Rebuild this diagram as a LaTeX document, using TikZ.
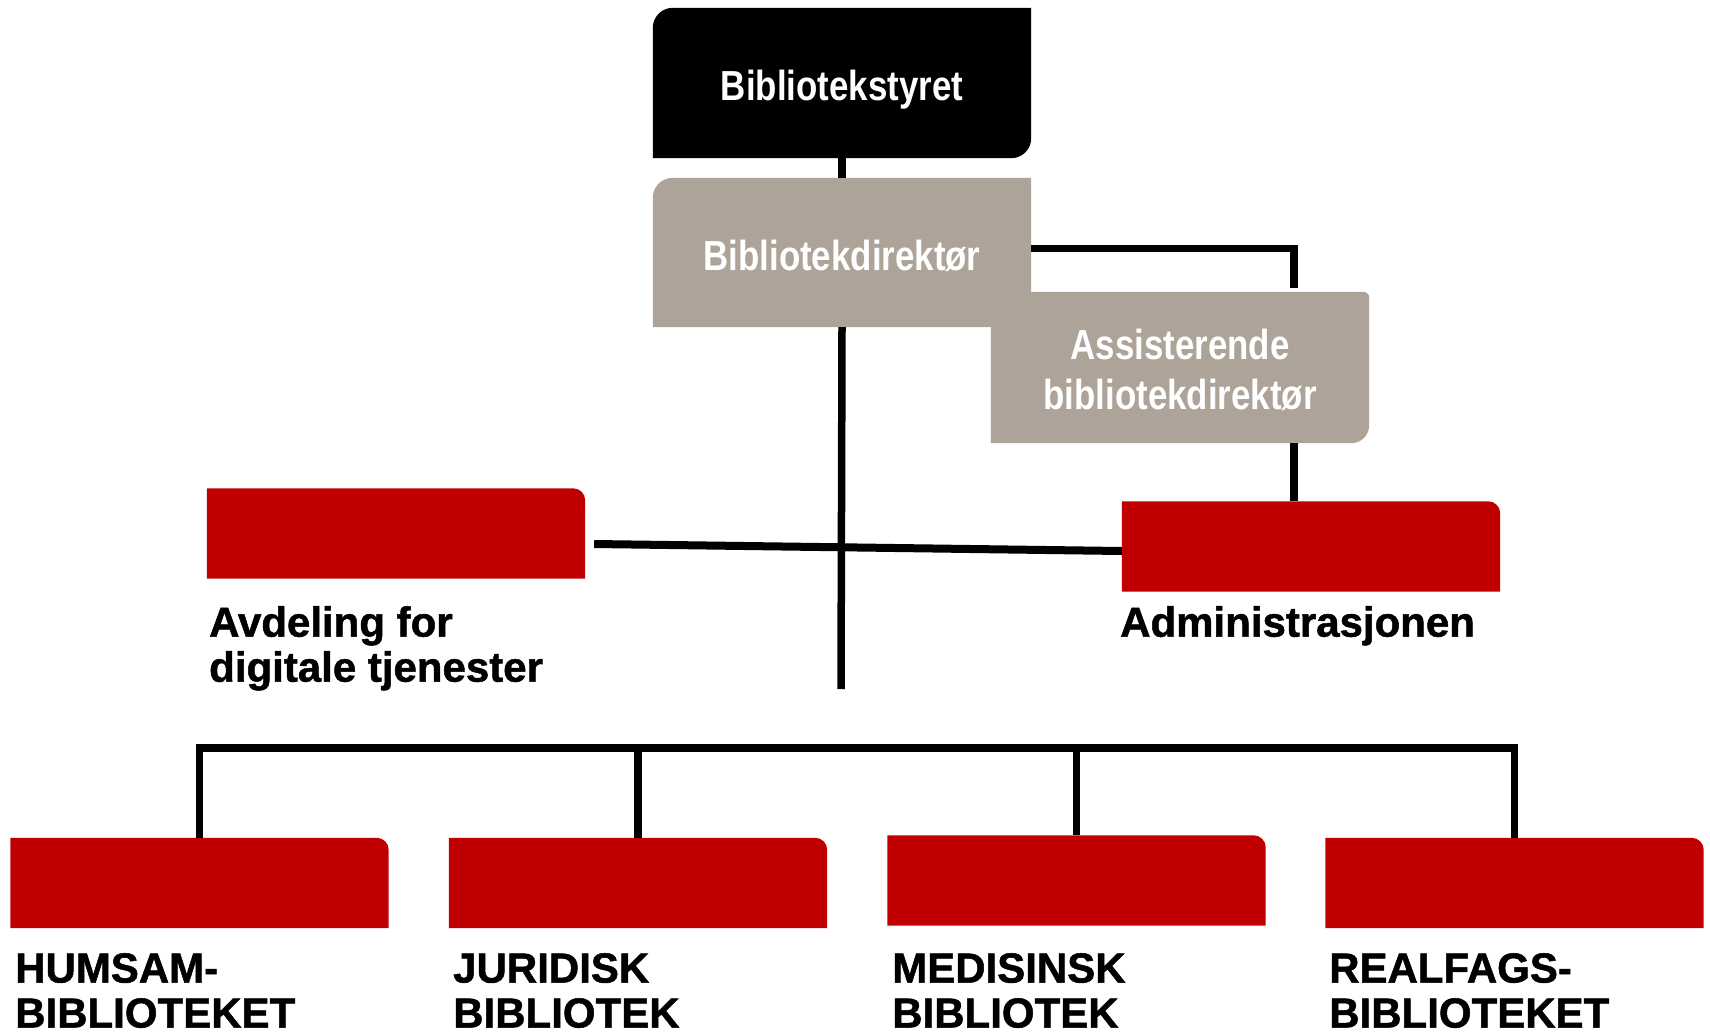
\documentclass[tikz,border=0pt]{standalone}
\usepackage{fontspec}
\setmainfont{Liberation Sans}
\newfontfamily\narrowfont[FakeStretch=0.83]{Liberation Sans}
\usepackage{tikz}
\usetikzlibrary{calc}

\definecolor{uired}{HTML}{C00000}
\definecolor{uigray}{HTML}{ADA398}

\tikzset{
  box/.style={minimum width=378pt,minimum height=150pt,inner sep=0pt,
              font=\narrowfont\bfseries\fontsize{42}{50}\selectfont,text=white,align=center},
  unitbox/.style={minimum width=378pt,minimum height=90pt,inner sep=0pt},
  lab/.style={anchor=north west,inner sep=0pt,align=left,
              font=\addfontfeature{FakeBold=1.2}\bfseries\fontsize{42}{45}\selectfont},
  link/.style={line width=7.5pt,line join=miter}
}

\begin{document}
\begin{tikzpicture}[x=1pt,y=1pt]
\useasboundingbox (0,0) rectangle (1710,-1034);

% the boxes, placed once
\path node[box] (styret) at (842,-83) {}
      node[box,minimum height=149pt] (dir) at (842,-252.5) {}
      node[box,minimum height=151pt] (ass) at (1180,-367.5) {}
      node[unitbox] (avd) at (396,-533.5) {}
      node[unitbox] (adm) at (1311,-546.5) {}
      node[unitbox] (hum) at (199.5,-883) {}
      node[unitbox] (jur) at (638,-883) {}
      node[unitbox] (med) at (1076.5,-880.5) {}
      node[unitbox] (rea) at (1514.5,-883) {};

% fills with their own corners
\fill (styret.south west) [rounded corners=20pt] -- (styret.north west)
      [sharp corners] -- (styret.north east) [rounded corners=20pt] -- (styret.south east)
      [sharp corners] -- cycle;
\fill[uigray] (dir.south east) -- (dir.south west) [rounded corners=20pt] -- (dir.north west)
      [sharp corners] -- (dir.north east) -- cycle;
\fill[uigray] (ass.south west) -- (ass.north west) [rounded corners=6pt] -- (ass.north east)
      [rounded corners=18pt] -- (ass.south east) [sharp corners] -- cycle;
\foreach \u in {avd,adm,hum,jur,med,rea}
  \fill[uired] (\u.south west) -- (\u.north west) [rounded corners=12pt] -- (\u.north east)
        [sharp corners] -- (\u.south east) -- cycle;

\node[box] at ($(styret)+(0,-7)$) {Bibliotekstyret};
\node[box] at ($(dir)+(0,-3)$) {Bibliotekdirektør};
\node[box] at ($(ass)+(0,-2)$) {Assisterende\\bibliotekdirektør};

% labels
\node[lab] (avdlab) at (209,-606) {Avdeling for\\digitale tjenester};
\node[lab] (admlab) at (1120,-606) {Administrasjonen};
\node[lab] (humlab) at (15,-953) {HUMSAM-\\BIBLIOTEKET};
\node[lab] (jurlab) at (453,-953) {JURIDISK\\BIBLIOTEK};
\node[lab] (medlab) at (892,-953) {MEDISINSK\\BIBLIOTEK};
\node[lab] (realab) at (1329,-953) {REALFAGS-\\BIBLIOTEKET};

% connectors
\coordinate (asstop) at (1294,-288);
\coordinate (trunkend) at (841,-689);
\coordinate (bus) at (0,-748);

\draw[link] (styret) -- (dir);
\draw[link] ([yshift=4pt]dir.east) -| (asstop);
\draw[link] (asstop |- ass.south) -- (asstop |- adm.north);
\draw[link] (dir.south) -- (trunkend);
\draw[line width=8pt] ([xshift=9pt,yshift=-10.5pt]avd.east) -- ([yshift=-4.5pt]adm.west);
\draw[link] (hum.north) -- (hum.north |- bus) -- (rea.north |- bus) -- (rea.north);
\foreach \u in {jur,med}
  \draw[link] (\u.north |- bus) -- (\u.north);

\end{tikzpicture}
\end{document}
